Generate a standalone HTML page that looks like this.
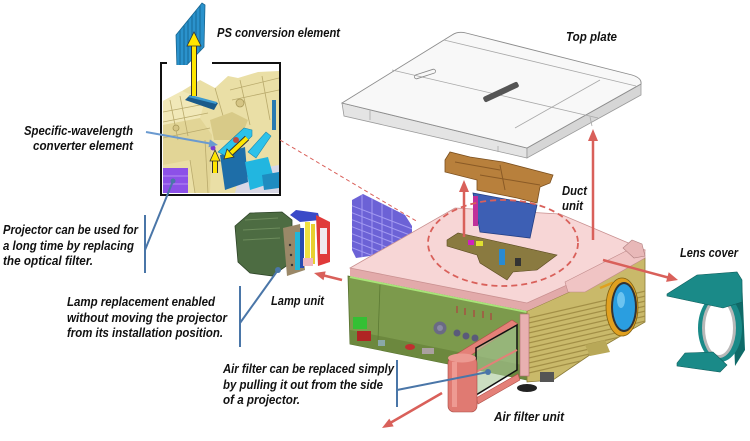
<!DOCTYPE html>
<html><head><meta charset="utf-8">
<style>
html,body{margin:0;padding:0;background:#fff;}
svg{display:block;}
text{font-family:"Liberation Sans",sans-serif;font-weight:bold;font-style:italic;font-size:13px;fill:#111;}
</style></head><body>
<svg width="750" height="441" viewBox="0 0 750 441" xmlns="http://www.w3.org/2000/svg">
<defs>
<clipPath id="inset"><rect x="163" y="65" width="116" height="128"/></clipPath>
<clipPath id="khaki"><polygon points="527,311 645,258 645,322 600,348 553,380 527,382"/></clipPath>
<clipPath id="grill"><polygon points="352,200 363,194 405,215 412,226 412,250 356,258 352,250"/></clipPath>
<clipPath id="ps"><polygon points="176,35 202,3 205,5 204,47 180,72 177,70"/></clipPath>
</defs>
<rect width="750" height="441" fill="#fff"/>

<!-- PS conversion element -->
<polygon points="176,35 202,3 205,5 204,47 180,72 177,70" fill="#2a92cc" stroke="#17648f" stroke-width="0.8"/>
<g clip-path="url(#ps)" stroke="#176a98" stroke-width="1">
<line x1="180" y1="0" x2="180" y2="80"/><line x1="184" y1="0" x2="184" y2="80"/><line x1="188" y1="0" x2="188" y2="80"/>
<line x1="192" y1="0" x2="192" y2="80"/><line x1="196" y1="0" x2="196" y2="80"/><line x1="200" y1="0" x2="200" y2="80"/>
</g>

<!-- Inset picture -->
<g clip-path="url(#inset)">
<rect x="163" y="65" width="116" height="128" fill="#eadfa6"/>
<polygon points="163,65 279,65 279,71 258,72 238,78 228,76 215,88 200,80 182,91 163,101" fill="#fff"/>
<polygon points="163,101 182,91 205,100 200,118 163,125" fill="#f1e8b8"/>
<polygon points="163,125 200,118 212,135 210,193 195,193 190,160 163,165" fill="#e2d596"/>
<g stroke="#b9aa6c" stroke-width="0.8" fill="none">
<line x1="163" y1="112" x2="205" y2="104"/><line x1="163" y1="122" x2="208" y2="113"/>
<line x1="170" y1="100" x2="178" y2="140"/><line x1="180" y1="96" x2="188" y2="136"/>
<line x1="163" y1="138" x2="210" y2="128"/><line x1="215" y1="88" x2="230" y2="140"/>
<line x1="230" y1="90" x2="279" y2="78"/><line x1="232" y1="100" x2="279" y2="90"/>
<line x1="240" y1="80" x2="250" y2="125"/><line x1="262" y1="76" x2="270" y2="120"/>
<line x1="190" y1="160" x2="195" y2="193"/><line x1="205" y1="140" x2="208" y2="193"/>
</g>
<polygon points="210,120 232,112 248,120 240,140 214,140" fill="#d8ca88"/>
<circle cx="240" cy="103" r="4" fill="#d5c585" stroke="#a89858" stroke-width="0.8"/>
<circle cx="176" cy="128" r="3" fill="#d5c585" stroke="#a89858" stroke-width="0.8"/>
<polygon points="185,100 190,95 218,103 214,110" fill="#1a5a8a"/>
<polygon points="188,97 191,95 217,102 216,104" fill="#3c9ad0"/>
<rect x="163" y="168" width="25" height="25" fill="#8c50e8"/>
<line x1="163" y1="176" x2="188" y2="176" stroke="#a878f0" stroke-width="1.5"/>
<line x1="163" y1="184" x2="188" y2="184" stroke="#a878f0" stroke-width="1.5"/>
<polygon points="240,172 279,165 279,193 235,193" fill="#d8d8e6"/>
<polygon points="220,155 245,147 248,182 225,190" fill="#1e6ea8"/>
<polygon points="218,152 244,128 252,130 252,136 230,158" fill="#2cc2ea" stroke="#1a88b0" stroke-width="0.6"/>
<polygon points="248,152 266,132 271,136 256,158" fill="#2cc2ea" stroke="#1a88b0" stroke-width="0.6"/>
<polygon points="245,162 268,157 275,182 250,190" fill="#22b6e0"/>
<polygon points="262,175 279,172 279,188 264,190" fill="#1e8cc0"/>
<circle cx="236" cy="140" r="3" fill="#c04a40"/>
<circle cx="213" cy="148" r="2.5" fill="#7a3ad0"/>
<rect x="272" y="100" width="4" height="30" fill="#2a7ab0"/>
</g>
<!-- inset frame -->
<polyline points="167,63 161,63 161,195 280,195 280,63 212,63" fill="none" stroke="#111" stroke-width="2"/>

<!-- Yellow arrows -->
<line x1="194" y1="96" x2="194" y2="45" stroke="#333" stroke-width="6"/>
<line x1="194" y1="96" x2="194" y2="45" stroke="#ffe600" stroke-width="4"/>
<polygon points="194,32 187,46 201,46" fill="#ffe600" stroke="#333" stroke-width="0.8"/>
<line x1="215" y1="173" x2="215" y2="160" stroke="#333" stroke-width="6"/>
<line x1="215" y1="173" x2="215" y2="160" stroke="#ffe600" stroke-width="4"/>
<polygon points="215,150 210,161 220,161" fill="#ffe600" stroke="#333" stroke-width="0.8"/>
<line x1="247" y1="138" x2="231" y2="153" stroke="#333" stroke-width="6"/>
<line x1="247" y1="138" x2="231" y2="153" stroke="#ffe600" stroke-width="4"/>
<polygon points="224,159 234,157 227,149" fill="#ffe600" stroke="#333" stroke-width="0.8"/>

<!-- Specific wavelength arrow -->
<line x1="146" y1="132" x2="210" y2="143.5" stroke="#6a9ad0" stroke-width="2"/>
<polygon points="218,145 208.5,147.3 209.9,139.5" fill="#6a9ad0"/>

<!-- thin dashed red line -->
<line x1="280" y1="140" x2="418" y2="222" stroke="#d9605a" stroke-width="1" stroke-dasharray="4,3"/>

<!-- Top plate -->
<polygon points="342,103 527,148 527,158 344,116" fill="#e4e4e4" stroke="#9a9a9a" stroke-width="0.8"/>
<polygon points="527,148 641,84 641,95 527,158" fill="#d6d6d6" stroke="#9a9a9a" stroke-width="0.8"/>
<path d="M342,103 L452,35 Q458,31 466,33 L632,75 Q642,78 641,84 L527,148 Z" fill="#f8f8f8" stroke="#8c8c8c" stroke-width="0.9"/>
<g stroke="#a8a8a8" stroke-width="0.8" fill="none">
<line x1="444" y1="40" x2="636" y2="86"/>
<line x1="392" y1="70" x2="598" y2="118"/>
<line x1="600" y1="80" x2="515" y2="128"/>
<line x1="370" y1="110" x2="370" y2="120"/>
<line x1="498" y1="146" x2="498" y2="152"/>
<line x1="590" y1="117" x2="592" y2="126"/>
</g>
<rect x="414" y="72" width="22" height="4" rx="2" fill="none" stroke="#888" stroke-width="0.8" transform="rotate(-18 425 74)"/>
<rect x="482" y="89" width="38" height="6" rx="2" fill="#555" transform="rotate(-25 501 92)"/>

<!-- Purple grill -->
<polygon points="352,200 363,194 405,215 412,226 412,250 356,258 352,250" fill="#6c62d6"/>
<g clip-path="url(#grill)" stroke="#a39af2" stroke-width="1">
<line x1="350" y1="205" x2="415" y2="230"/><line x1="350" y1="212" x2="415" y2="237"/>
<line x1="350" y1="219" x2="415" y2="244"/><line x1="350" y1="226" x2="415" y2="251"/>
<line x1="350" y1="233" x2="415" y2="258"/><line x1="350" y1="240" x2="415" y2="265"/>
<line x1="350" y1="247" x2="415" y2="272"/>
<line x1="362" y1="195" x2="362" y2="260"/><line x1="372" y1="195" x2="372" y2="260"/>
<line x1="382" y1="195" x2="382" y2="260"/><line x1="392" y1="195" x2="392" y2="260"/>
</g>

<!-- Lamp unit -->
<polygon points="235,226 250,213 282,212 292,220 292,262 272,276 250,273 238,262" fill="#4d6c42" stroke="#2e4428" stroke-width="0.8"/>
<g stroke="#6d8c5c" stroke-width="1"><line x1="245" y1="220" x2="278" y2="218"/><line x1="243" y1="230" x2="280" y2="228"/><line x1="243" y1="240" x2="280" y2="238"/></g>
<polygon points="283,228 300,224 305,270 287,276" fill="#9a8868"/>
<circle cx="290" cy="245" r="1.2" fill="#333"/><circle cx="291" cy="255" r="1.2" fill="#333"/><circle cx="292" cy="265" r="1.2" fill="#333"/>
<rect x="295" y="232" width="5" height="38" fill="#22b6d8"/>
<rect x="300" y="228" width="4" height="40" fill="#2a4ab0"/>
<rect x="305" y="222" width="5" height="42" fill="#f0e040"/>
<rect x="311" y="224" width="4" height="40" fill="#e8d030"/>
<rect x="303" y="258" width="10" height="8" fill="#f0b8c0"/>
<polygon points="290,215 296,210 318,213 320,220 300,222" fill="#3a4ac8"/>
<polygon points="316,215 330,222 330,262 318,266" fill="#e03a3a"/>
<rect x="320" y="228" width="7" height="26" fill="#f0e8ee"/>

<!-- Projector body: green left face -->
<polygon points="348,276 527,311 527,380 350,344" fill="#7c9a4c" stroke="#55702e" stroke-width="0.8"/>
<polygon points="350,330 527,366 527,380 350,344" fill="#6c883e"/>
<line x1="350" y1="277" x2="527" y2="312" stroke="#a8e478" stroke-width="2"/>
<line x1="380" y1="285" x2="378" y2="340" stroke="#5c7a34" stroke-width="0.8"/>
<rect x="353" y="317" width="14" height="12" fill="#34c034"/>
<rect x="357" y="331" width="14" height="10" fill="#b02424"/>
<rect x="378" y="340" width="7" height="6" fill="#8aa8a8"/>
<ellipse cx="410" cy="347" rx="5" ry="3" fill="#c03030"/>
<rect x="422" y="348" width="12" height="6" fill="#aaa0a0"/>
<circle cx="440" cy="328" r="6.5" fill="#6a6a84"/><circle cx="440" cy="328" r="3" fill="#8a8aa4"/>
<circle cx="457" cy="333" r="3.5" fill="#5a5a7a"/><circle cx="466" cy="336" r="3.5" fill="#5a5a7a"/><circle cx="475" cy="338" r="3.5" fill="#5a5a7a"/>
<g stroke="#b04040" stroke-width="1.2"><line x1="457" y1="306" x2="457" y2="313"/><line x1="465" y1="308" x2="465" y2="315"/><line x1="474" y1="310" x2="474" y2="317"/><line x1="483" y1="311" x2="483" y2="318"/><line x1="491" y1="313" x2="491" y2="320"/></g>

<!-- Khaki right face -->
<polygon points="527,311 645,258 645,322 600,348 553,380 527,382" fill="#c9b96a" stroke="#8a7a38" stroke-width="0.8"/>
<g clip-path="url(#khaki)" stroke="#a28f46" stroke-width="1.2">
<line x1="520" y1="320" x2="650" y2="290"/><line x1="520" y1="325" x2="650" y2="295"/>
<line x1="520" y1="330" x2="650" y2="300"/><line x1="520" y1="335" x2="650" y2="305"/>
<line x1="520" y1="340" x2="650" y2="310"/><line x1="520" y1="345" x2="650" y2="315"/>
<line x1="520" y1="350" x2="650" y2="320"/><line x1="520" y1="355" x2="650" y2="325"/>
<line x1="520" y1="360" x2="650" y2="330"/><line x1="520" y1="365" x2="650" y2="335"/>
<line x1="520" y1="370" x2="650" y2="340"/><line x1="520" y1="375" x2="650" y2="345"/>
</g>
<polygon points="585,345 605,340 610,352 590,356" fill="#b8a858"/>
<rect x="520" y="314" width="9" height="62" fill="#e8b0b0" stroke="#b07070" stroke-width="0.6"/>
<rect x="540" y="372" width="14" height="10" fill="#555"/>
<ellipse cx="527" cy="388" rx="10" ry="4" fill="#222"/>

<!-- Pink top -->
<polygon points="350,268 527,303 527,311 350,276" fill="#e2aaaa"/>
<polygon points="527,303 645,250 645,258 527,311" fill="#e2aaaa"/>
<polygon points="350,268 455,208 560,214 645,250 527,303" fill="#f7d6d6" stroke="#c99090" stroke-width="0.8"/>
<polygon points="565,282 628,250 645,250 645,258 585,292 568,292" fill="#f0c4c4" stroke="#c08a8a" stroke-width="0.6"/>
<polygon points="623,248 632,240 642,244 645,256 634,258" fill="#e8b8b8" stroke="#b08080" stroke-width="0.6"/>
<polyline points="600,288 612,283 618,290" fill="none" stroke="#e0a020" stroke-width="2.5"/>
<!-- hole -->
<polygon points="447,240 458,233 477,237 557,255 537,270 513,272 507,280 480,263 477,255 447,246" fill="#8a7a40" stroke="#5a4a20" stroke-width="0.6"/>
<rect x="468" y="240" width="6" height="5" fill="#d020c0"/>
<rect x="476" y="241" width="7" height="5" fill="#e0e030"/>
<rect x="499" y="249" width="6" height="16" fill="#2a8ad0"/>
<rect x="515" y="258" width="6" height="8" fill="#333"/>
<!-- Duct unit -->
<polygon points="473,193 537,205 530,238 480,232" fill="#3d5fb4" stroke="#233e82" stroke-width="0.8"/>
<rect x="473" y="196" width="5" height="30" fill="#c0309a"/>
<polygon points="445,160 450,152 470,157 503,162 553,175 550,183 540,187 537,203 517,198 477,190 477,180 445,172" fill="#b8803c" stroke="#7a4e1e" stroke-width="0.8"/>
<g stroke="#8a5a26" stroke-width="1" fill="none"><line x1="455" y1="162" x2="500" y2="170"/><line x1="480" y1="175" x2="540" y2="185"/><line x1="500" y1="165" x2="505" y2="190"/></g>

<!-- Dashed ellipse -->
<ellipse cx="503" cy="243" rx="75" ry="43" fill="none" stroke="#d9605a" stroke-width="1.8" stroke-dasharray="6,4"/>

<!-- Lens -->
<ellipse cx="622" cy="307" rx="16" ry="29" fill="#e0a020" stroke="#806010" stroke-width="0.8"/>
<ellipse cx="624" cy="307" rx="13" ry="25" fill="#333"/>
<ellipse cx="624" cy="307" rx="11" ry="23" fill="#2a9ee0"/>
<ellipse cx="621" cy="300" rx="4" ry="8" fill="#6cc4f0"/>

<!-- Lens cover -->
<polygon points="732,290 742,280 745,350 735,366" fill="#0f6a68"/>
<ellipse cx="720" cy="328" rx="22" ry="34" fill="#1a8a88"/>
<ellipse cx="719" cy="328" rx="17" ry="30" fill="#b8b8b8"/>
<ellipse cx="719" cy="328" rx="14" ry="27" fill="#fff"/>
<polygon points="667,294 697,275 737,272 742,280 742,302 723,308 667,296" fill="#1a8a88" stroke="#0f5e5c" stroke-width="0.6"/>
<polygon points="677,363 685,353 713,352 727,365 720,372 677,366" fill="#1a8a88" stroke="#0f5e5c" stroke-width="0.6"/>

<!-- Air filter unit -->
<polygon points="455,355 512,320 518,324 462,361" fill="#e48078" stroke="#b05048" stroke-width="0.6"/>
<polygon points="476,398 518,374 520,380 478,404" fill="#e48078" stroke="#b05048" stroke-width="0.6"/>
<polygon points="476,348 517,325 517,370 476,395" fill="#a8c898" fill-opacity="0.6" stroke="#111" stroke-width="1.5"/>
<line x1="476" y1="372" x2="517" y2="350" stroke="#e48078" stroke-width="2"/>
<circle cx="488" cy="372" r="3" fill="#4a76a8"/>
<rect x="448" y="357" width="29" height="55" rx="6" fill="#e07a72" stroke="#a84a44" stroke-width="0.6"/>
<ellipse cx="462" cy="358" rx="14" ry="4.5" fill="#ec9a92"/>
<rect x="452" y="362" width="5" height="45" fill="#ee9a92"/>

<!-- Red arrows -->
<g stroke="#d9605a" stroke-width="2.5" fill="none">
<line x1="464" y1="237" x2="464" y2="191"/>
<line x1="593" y1="240" x2="593" y2="140"/>
<line x1="603" y1="260" x2="668" y2="277.5"/>
<line x1="342" y1="280" x2="324" y2="275.5"/>
<line x1="442" y1="393" x2="391" y2="422.5"/>
</g>
<g fill="#d9605a">
<polygon points="464,180 459,192 469,192"/>
<polygon points="593,129 588,141 598,141"/>
<polygon points="678,280 666.1,281.9 668.7,272.3"/>
<polygon points="314,273 325.7,271.4 323.5,280.2"/>
<polygon points="382,428 393.7,426.4 389.3,418.6"/>
</g>

<!-- Blue leaders -->
<g stroke="#4a76a8" stroke-width="2" fill="none">
<line x1="145" y1="215" x2="145" y2="273"/>
<line x1="145" y1="250" x2="173" y2="181"/>
<line x1="240" y1="286" x2="240" y2="347"/>
<line x1="240" y1="323" x2="278" y2="270"/>
<line x1="397" y1="360" x2="397" y2="407"/>
<line x1="397" y1="390" x2="488" y2="372"/>
</g>
<circle cx="173" cy="181" r="2.5" fill="#4a76a8"/>
<circle cx="278" cy="270" r="3" fill="#4a76a8"/>

<!-- Labels -->
<text x="217" y="37" textLength="123" lengthAdjust="spacingAndGlyphs">PS conversion element</text>
<text x="566" y="41" textLength="51" lengthAdjust="spacingAndGlyphs">Top plate</text>
<text x="24" y="135" textLength="109" lengthAdjust="spacingAndGlyphs">Specific-wavelength</text>
<text x="33" y="150" textLength="100" lengthAdjust="spacingAndGlyphs">converter element</text>
<text x="562" y="195" textLength="25" lengthAdjust="spacingAndGlyphs">Duct</text>
<text x="562" y="210" textLength="21" lengthAdjust="spacingAndGlyphs">unit</text>
<text x="680" y="257" textLength="58" lengthAdjust="spacingAndGlyphs">Lens cover</text>
<text x="3" y="234" textLength="135" lengthAdjust="spacingAndGlyphs">Projector can be used for</text>
<text x="3" y="250" textLength="131" lengthAdjust="spacingAndGlyphs">a long time by replacing</text>
<text x="3" y="265" textLength="90" lengthAdjust="spacingAndGlyphs">the optical filter.</text>
<text x="67" y="306" textLength="148" lengthAdjust="spacingAndGlyphs">Lamp replacement enabled</text>
<text x="67" y="322" textLength="160" lengthAdjust="spacingAndGlyphs">without moving the projector</text>
<text x="67" y="337" textLength="156" lengthAdjust="spacingAndGlyphs">from its installation position.</text>
<text x="271" y="305" textLength="53" lengthAdjust="spacingAndGlyphs">Lamp unit</text>
<text x="223" y="373" textLength="171" lengthAdjust="spacingAndGlyphs">Air filter can be replaced simply</text>
<text x="223" y="389" textLength="160" lengthAdjust="spacingAndGlyphs">by pulling it out from the side</text>
<text x="223" y="404" textLength="77" lengthAdjust="spacingAndGlyphs">of a projector.</text>
<text x="494" y="421" textLength="70" lengthAdjust="spacingAndGlyphs">Air filter unit</text>
</svg>
</body></html>
